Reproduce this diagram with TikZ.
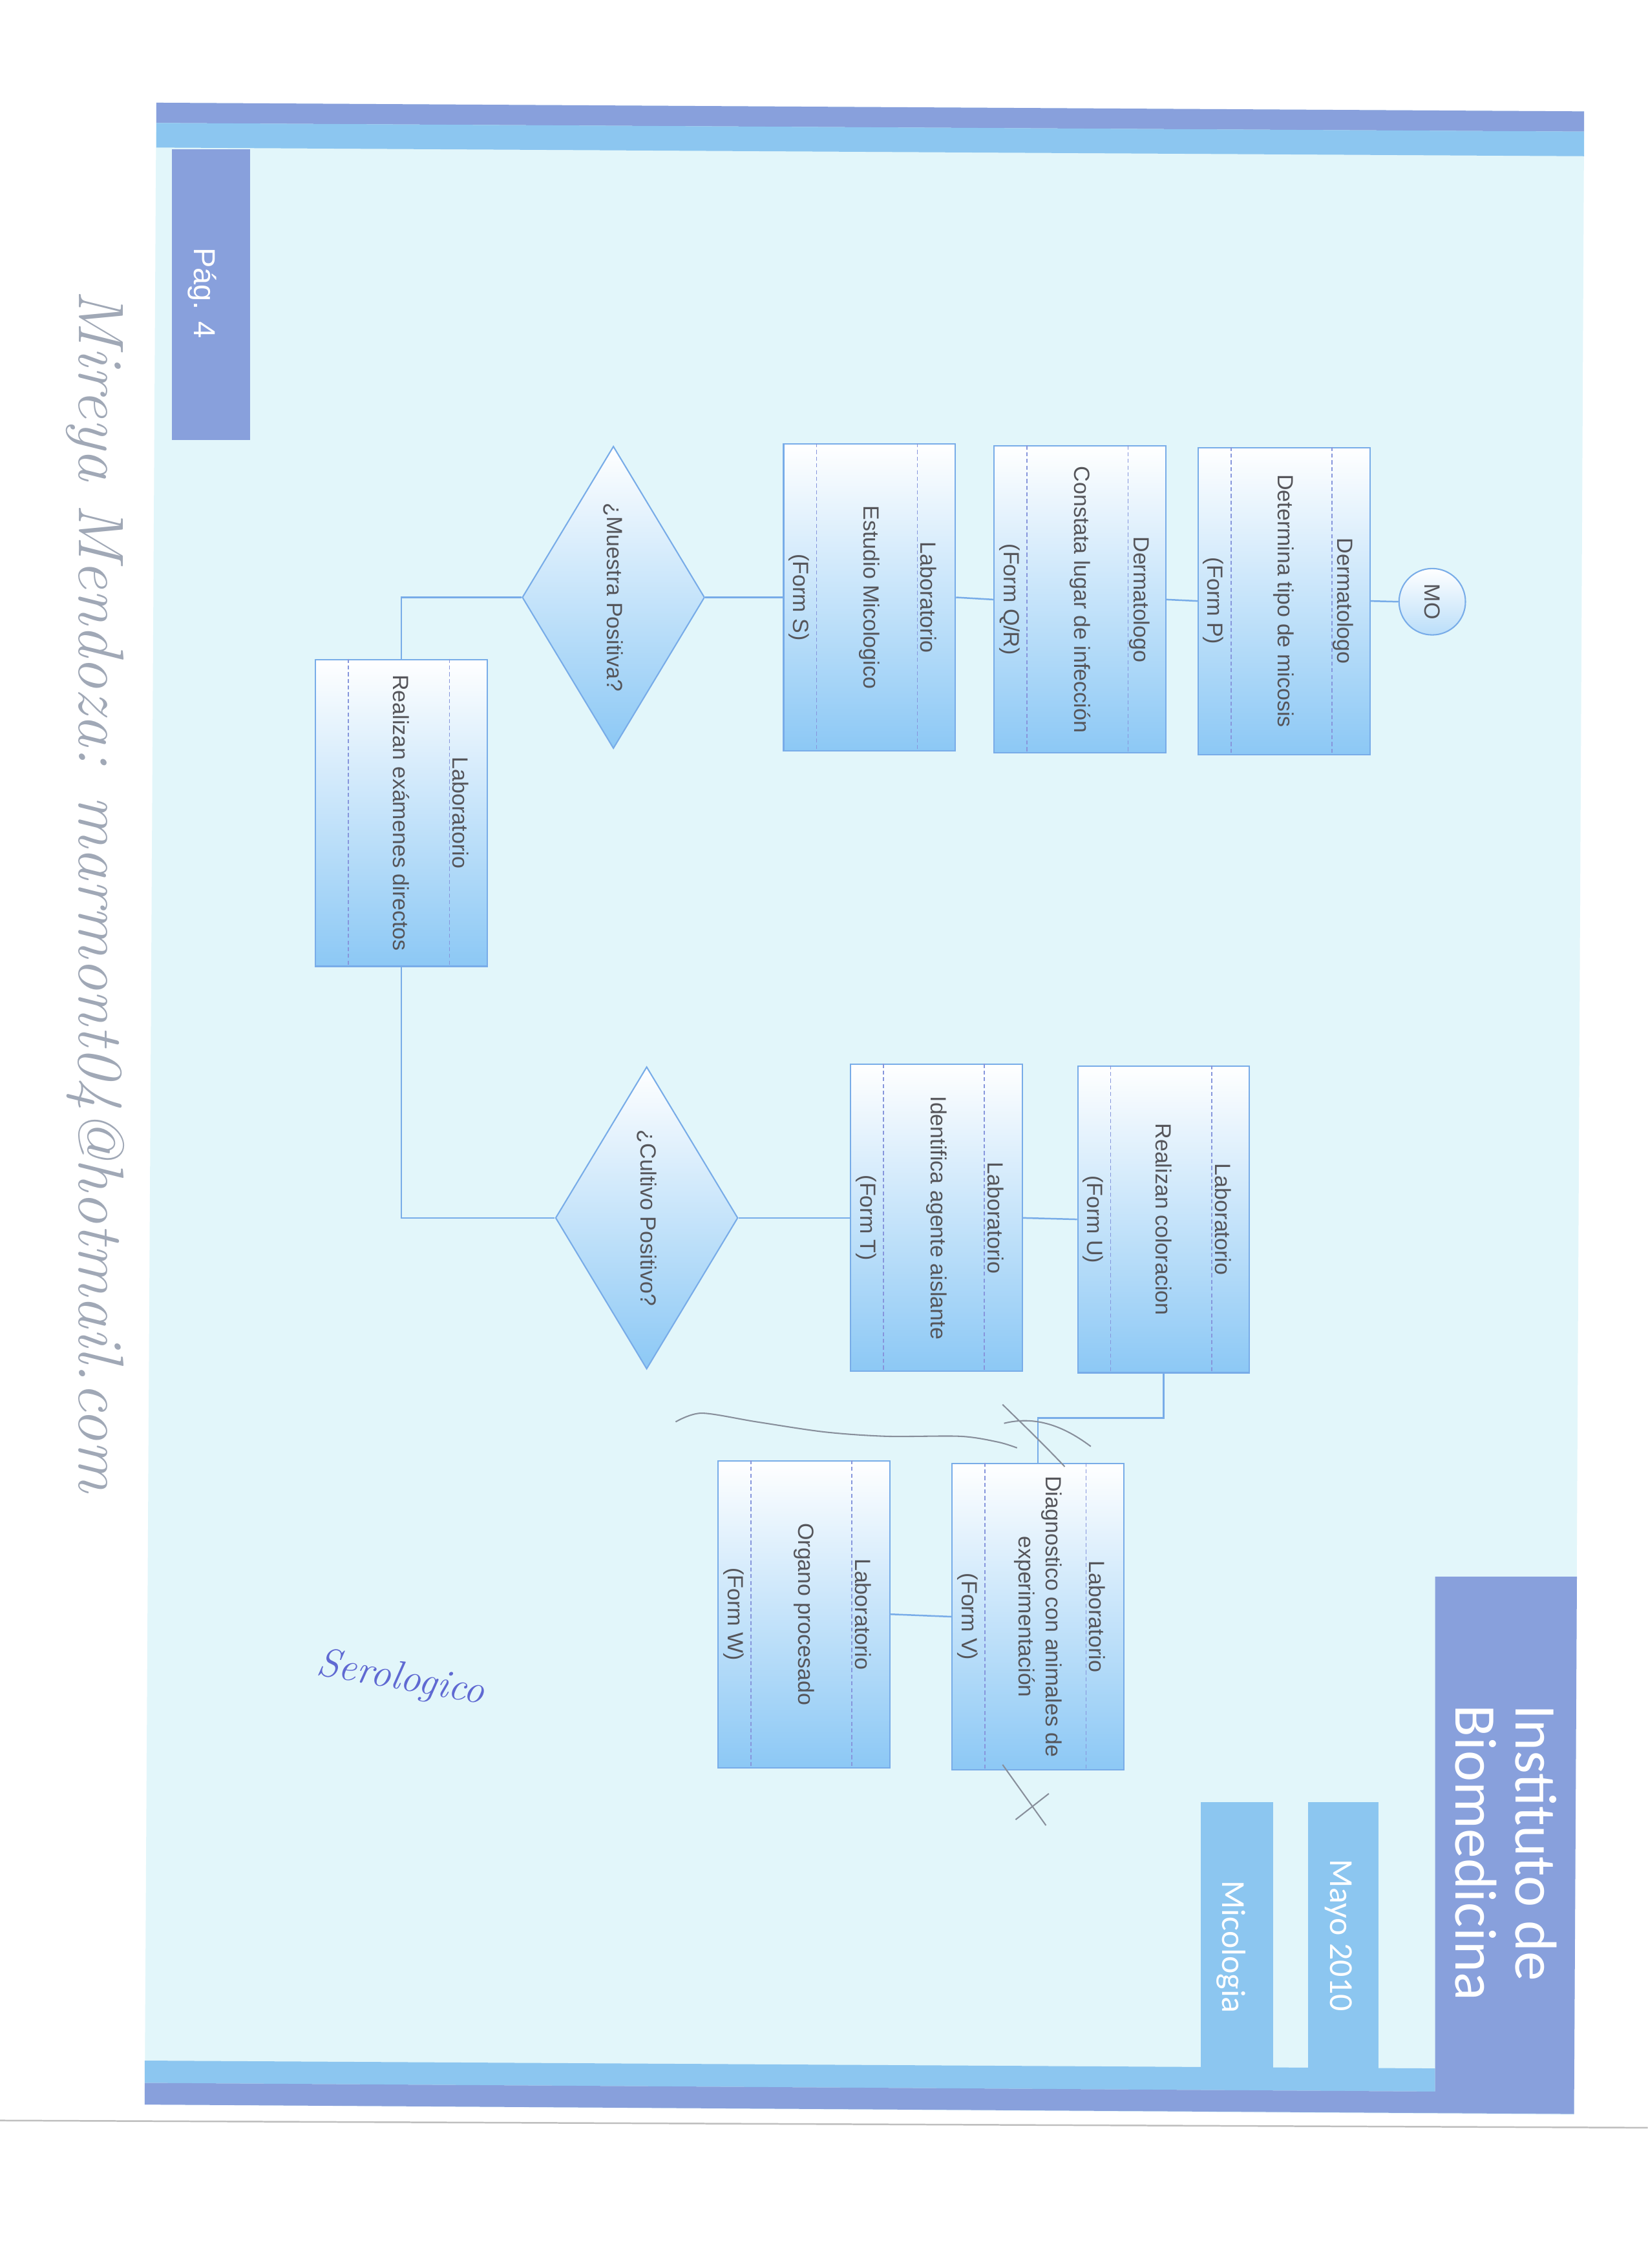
\documentclass[tikz,border=0pt]{standalone}
\usepackage{fontspec}
\newfontfamily\labfont{Liberation Sans}
\newfontfamily\headfont{Carlito}
\usepackage{tikz}
\usetikzlibrary{shapes.geometric, calc, positioning}
\definecolor{paper}{RGB}{226,246,250}
\definecolor{darkband}{RGB}{136,160,220}
\definecolor{lightband}{RGB}{140,198,240}
\definecolor{lineblue}{RGB}{120,172,232}
\definecolor{stripblue}{RGB}{135,150,220}
\definecolor{boxblue}{RGB}{140,200,245}
\definecolor{textgray}{RGB}{85,85,90}
\definecolor{pencil}{RGB}{160,168,182}
\definecolor{ink}{RGB}{95,105,210}
\tikzstyle{box} = [rectangle, draw=lineblue, line width=0.5pt, top color=white, bottom color=boxblue, minimum width=2.25cm, minimum height=4.02cm, inner sep=0pt, text=textgray, font=\labfont\fontsize{8.2}{10.2}\selectfont]
\tikzstyle{decision} = [diamond, aspect=0.6, draw=lineblue, line width=0.5pt, top color=white, bottom color=boxblue, minimum width=2.39cm, minimum height=3.96cm, inner sep=0pt, text=textgray, font=\labfont\fontsize{8.2}{10.2}\selectfont]
\tikzstyle{start} = [circle, draw=lineblue, line width=0.5pt, top color=white, bottom color=boxblue!60, minimum size=0.87cm, inner sep=0pt, text=textgray, font=\labfont\fontsize{8.2}{10.2}\selectfont]
\tikzstyle{tag} = [rotate=-90, inner sep=0pt, text=textgray, font=\labfont\fontsize{8.2}{10.2}\selectfont]
\tikzstyle{strip} = [draw=stripblue, line width=0.4pt, dash pattern=on 1.5pt off 1pt]
\tikzstyle{link} = [draw=lineblue, line width=0.6pt]
\tikzstyle{headtext} = [rotate=-90, inner sep=0pt, text=white]
\tikzstyle{pencilmark} = [draw=pencil!85!black, line width=0.5pt]

\begin{document}
\begin{tikzpicture}[x=0.018956cm, y=-0.018956cm]
	\useasboundingbox (0,0) rectangle (1139,1568);
	\fill[white] (0,0) rectangle (1139,1568);
	% page frame
	\fill[paper] (108,71) -- (1095,77) -- (1088,1462) -- (100,1455) -- cycle;
	\fill[darkband] (108,71) -- (1095,77) -- (1095,91) -- (108,85) -- cycle;
	\fill[lightband] (108,85) -- (1095,91) -- (1095,108) -- (108,102) -- cycle;
	\fill[darkband] (119,103) rectangle (173,304);
	\fill[lightband] (100,1424.6) -- (992,1430) -- (992,1446) -- (100,1440) -- cycle;
	\fill[lightband] (830,1246) rectangle (880,1431);
	\fill[lightband] (904,1246) rectangle (953,1431);
	\fill[darkband] (992,1090) -- (1090,1090) -- (1088,1461.5) -- (100,1455) -- (100,1440) -- (992,1446) -- cycle;
	\draw[gray!50, line width=0.6pt] (0,1466) -- (1139,1471);
	\node (Pag) [headtext, font=\labfont\fontsize{11.3}{13}\selectfont] at (140,202.5) {Pág. 4};
	\node (Instituto) [headtext, align=left, font=\headfont\fontsize{22}{22.6}\selectfont] at (1041,1281) {Instituto de\\Biomedicina};
	\node (Mayo) [headtext, font=\headfont\fontsize{12.5}{14}\selectfont] at (925,1338) {Mayo 2010};
	\node (Area) [headtext, font=\headfont\fontsize{12.5}{14}\selectfont] at (851,1346) {Micologia};

	% flow
	\node (MO) [start] at (990,416) {\rotatebox{-90}{MO}};
	\node (P) [box] at (887.5,415.5) {\rotatebox{-90}{Determina tipo de micosis}};
	\node (P-rol) [tag] at ($(P.center)+(41,0)$) {Dermatologo};
	\node (P-form) [tag] at ($(P.center)+(-48.7,0)$) {(Form P)};
	\node (Q) [box] at (746.5,414.5) {\rotatebox{-90}{Constata lugar de infección}};
	\node (Q-rol) [tag] at ($(Q.center)+(41,0)$) {Dermatologo};
	\node (Q-form) [tag] at ($(Q.center)+(-48.7,0)$) {(Form Q/R)};
	\node (S) [box] at (601,413) {\rotatebox{-90}{Estudio Micologico}};
	\node (S-rol) [tag] at ($(S.center)+(41,0)$) {Laboratorio};
	\node (S-form) [tag] at ($(S.center)+(-48.7,0)$) {(Form S)};
	\node (Muestra) [decision] at (424,413) {\rotatebox{-90}{¿Muestra Positiva?}};
	\node (Ex) [box] at (277.5,562) {\rotatebox{-90}{Realizan exámenes directos}};
	\node (Ex-rol) [tag] at ($(Ex.center)+(41,0)$) {Laboratorio};
	\node (Cultivo) [decision] at (447,842) {\rotatebox{-90}{¿Cultivo Positivo?}};
	\node (T) [box] at (647.3,842) {\rotatebox{-90}{Identifica agente aislante}};
	\node (T-rol) [tag] at ($(T.center)+(41,0)$) {Laboratorio};
	\node (T-form) [tag] at ($(T.center)+(-48.7,0)$) {(Form T)};
	\node (U) [box] at (804.3,843) {\rotatebox{-90}{Realizan coloracion}};
	\node (U-rol) [tag] at ($(U.center)+(41,0)$) {Laboratorio};
	\node (U-form) [tag] at ($(U.center)+(-48.7,0)$) {(Form U)};
	\node (V) [box] at (717.5,1117.7) {\rotatebox{-90}{\begin{tabular}{@{}c@{}}Diagnostico con animales de\\experimentación\end{tabular}}};
	\node (V-rol) [tag] at ($(V.center)+(41,0)$) {Laboratorio};
	\node (V-form) [tag] at ($(V.center)+(-48.7,0)$) {(Form V)};
	\node (W) [box] at (555.7,1116) {\rotatebox{-90}{Organo procesado}};
	\node (W-rol) [tag] at ($(W.center)+(41,0)$) {Laboratorio};
	\node (W-form) [tag] at ($(W.center)+(-48.7,0)$) {(Form W)};

	% strips
	\draw [strip] ($(P.north west)+(23.2,0)$) -- ($(P.south west)+(23.2,0)$);
	\draw [strip] ($(P.north west)+(93,0)$) -- ($(P.south west)+(93,0)$);
	\draw [strip] ($(Q.north west)+(23.2,0)$) -- ($(Q.south west)+(23.2,0)$);
	\draw [strip] ($(Q.north west)+(93,0)$) -- ($(Q.south west)+(93,0)$);
	\draw [strip] ($(S.north west)+(23.2,0)$) -- ($(S.south west)+(23.2,0)$);
	\draw [strip] ($(S.north west)+(93,0)$) -- ($(S.south west)+(93,0)$);
	\draw [strip] ($(Ex.north west)+(23.2,0)$) -- ($(Ex.south west)+(23.2,0)$);
	\draw [strip] ($(Ex.north west)+(93,0)$) -- ($(Ex.south west)+(93,0)$);
	\draw [strip] ($(T.north west)+(23.2,0)$) -- ($(T.south west)+(23.2,0)$);
	\draw [strip] ($(T.north west)+(93,0)$) -- ($(T.south west)+(93,0)$);
	\draw [strip] ($(U.north west)+(23.2,0)$) -- ($(U.south west)+(23.2,0)$);
	\draw [strip] ($(U.north west)+(93,0)$) -- ($(U.south west)+(93,0)$);
	\draw [strip] ($(V.north west)+(23.2,0)$) -- ($(V.south west)+(23.2,0)$);
	\draw [strip] ($(V.north west)+(93,0)$) -- ($(V.south west)+(93,0)$);
	\draw [strip] ($(W.north west)+(23.2,0)$) -- ($(W.south west)+(23.2,0)$);
	\draw [strip] ($(W.north west)+(93,0)$) -- ($(W.south west)+(93,0)$);

	% links
	\draw [link] (MO.west) -- (P.east);
	\draw [link] (P.west) -- (Q.east);
	\draw [link] (Q.west) -- (S.east);
	\draw [link] (S.west) -- (Muestra.east);
	\draw [link] (Muestra.west) -| (Ex.north);
	\draw [link] (Ex.south) |- (Cultivo.west);
	\draw [link] (Cultivo.east) -- (T.west);
	\draw [link] (T.east) -- (U.west);
	\draw [link] (U.south) |- ($(U.south)!0.5!(V.north)$) -| (V.north);
	\draw [link] (V.west) -- (W.east);

	% handwriting
	\node (Autor) [rotate=-90, text=pencil, font=\itshape\fontsize{24}{26}\selectfont] at (66,616) {Mireya Mendoza: marmont04@hotmail.com};
	\node (Nota) [rotate=-10, text=ink, font=\itshape\fontsize{15}{17}\selectfont] at (277,1161) {Serologico};
	\draw [pencilmark] plot [smooth] coordinates {(467,983) (485,977) (523,983) (570,990) (613,993) (664,993) (690,997) (703,1001)};
	\draw [pencilmark] (693,971) .. controls (700,978) and (718,995) .. (736,1014);
	\draw [pencilmark] (694,984) .. controls (718,978) and (738,988) .. (754,1000);
	\draw [pencilmark] (693,1220) -- (723,1262);
	\draw [pencilmark] (702,1258) -- (725,1240);
\end{tikzpicture}
\end{document}
